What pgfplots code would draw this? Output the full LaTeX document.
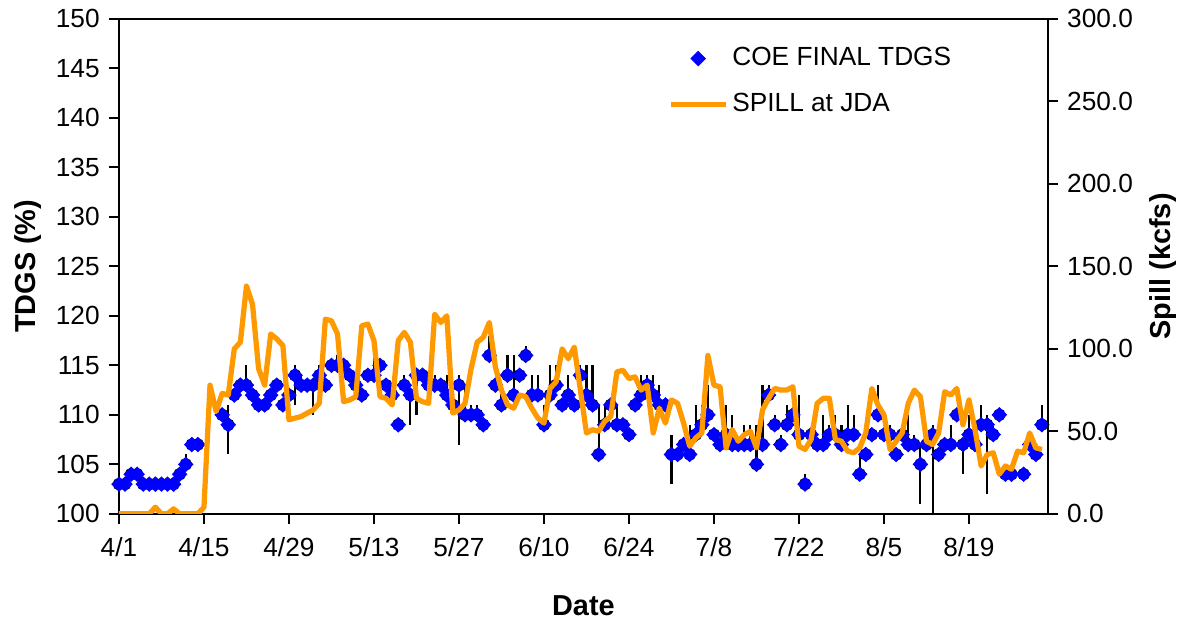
\documentclass[border=0pt]{standalone}
\usepackage{pgfplots}
\pgfplotsset{compat=1.18}
\usepackage{pgfplotstable}
\usepackage{fontspec}
\setmainfont{Liberation Sans}
\definecolor{spillc}{RGB}{255,153,0}
\pgfplotsset{
  lineleg/.style={legend image code/.code={\draw[##1] (0pt,0pt) -- (21pt,0pt);}},
  markleg/.style={legend image code/.code={\draw[##1] plot coordinates {(10.5pt,0pt)};}},
}

\pgfplotstableread{
d t ep em
0 103 0 0
1 103 0 0
2 104 0 0
3 104 0 0
4 103 0 0
5 103 0 0
6 103 0 0
7 103 0 0
8 103 0 0
9 103 0 0
10 104 0 0
11 105 1 0
12 107 0 0
13 107 0 0
17 110 0 0
18 109 2 3
19 112 0 0
20 113 0 0
21 113 2 0
22 112 0 0
23 111 0 0
24 111 0 0
25 112 0 0
26 113 0 0
27 111 0 0
28 112 0 0
29 114 1 3
30 113 1 0
31 113 0 0
32 113 0 3
33 114 1 0
34 113 0 0
35 115 0 0
36 115 1 0
37 115 0 0
38 114 0 0
39 113 1 0
40 112 0 0
41 114 0 0
42 114 2 0
43 115 0 0
44 113 0 0
45 112 0 0
46 109 0 0
47 113 1 0
48 112 0 3
49 114 0 4
50 114 0 0
51 113 0 0
52 113 1 0
53 113 0 0
54 112 2 0
55 111 0 0
56 113 1 6
57 110 3 0
58 110 1 0
59 110 1 0
60 109 0 0
61 116 2 0
62 113 0 0
63 111 2 0
64 114 2 0
65 112 4 0
66 114 0 0
67 116 1 0
68 112 2 0
69 112 2 0
70 109 2 0
71 112 3 0
72 113 2 0
73 111 0 0
74 112 2 0
75 111 0 0
76 114 1 0
77 112 3 0
78 111 4 0
79 106 5 0
80 109 2 0
81 111 0 0
82 109 2 0
83 109 0 0
84 108 0 0
85 111 0 0
86 112 2 0
87 113 1 0
88 112 2 0
89 111 2 0
90 111 0 0
91 106 2 3
92 106 0 0
93 107 0 0
94 106 3 0
95 108 3 0
96 109 2 0
97 110 3 0
98 108 0 0
99 107 0 0
100 108 3 0
101 107 3 0
102 107 0 0
103 107 2 0
104 107 2 0
105 105 4 0
106 107 6 0
107 112 1 0
108 109 1 0
109 107 1 0
110 109 2 0
111 110 0 0
112 108 4 0
113 103 1 0
114 108 0 0
115 107 0 0
116 107 3 0
117 108 1 0
118 108 2 0
119 107 2 0
120 108 3 0
121 108 2 0
122 104 2 0
123 106 0 0
124 108 0 0
125 110 3 0
126 108 0 0
127 108 1 0
128 106 0 0
129 108 0 0
130 107 3 0
131 107 1 0
132 105 2 4
133 107 1 0
134 108 1 8
135 106 0 0
136 107 0 0
137 107 2 0
138 110 0 0
139 107 0 3
140 108 2 0
141 107 0 0
142 109 2 0
143 109 1 7
144 108 1 0
145 110 0 0
146 104 0 0
147 104 0 0
149 104 0 0
150 107 0 0
151 106 0 0
152 109 2 0
}\tdgs

\pgfplotstableread{
d s
0 0
1 0
2 0
3 0
4 0
5 0
6 4
7 0
8 0
9 3
10 0
11 0
12 0
13 0
14 4
15 78
16 62
17 73
18 72
19 100
20 104
21 138
22 127
23 88
24 78
25 109
26 106
27 102
28 57
29 58
30 59
31 61
32 63
33 67
34 118
35 117
36 109
37 68
38 69
39 71
40 114
41 115
42 105
43 71
44 70
45 66
46 105
47 110
48 104
49 70
50 68
51 67
52 121
53 116
54 120
55 61
56 63
57 67
58 88
59 104
60 107
61 116
62 89
63 75
64 66
65 64
66 72
67 71
68 64
69 58
70 55
71 76
72 80
73 100
74 94
75 101
76 75
77 49
78 51
79 50
80 56
81 59
82 86
83 87
84 82
85 83
86 75
87 78
88 49
89 64
90 55
91 69
92 67
93 55
94 41
95 46
96 49
97 96
98 78
99 77
100 40
101 51
102 44
103 48
104 50
105 40
106 63
107 70
108 76
109 75
110 75
111 77
112 41
113 39
114 45
115 67
116 70
117 70
118 45
119 44
120 38
121 37
122 40
123 49
124 76
125 66
126 60
127 39
128 44
129 49
130 67
131 75
132 71
133 44
134 42
135 49
136 74
137 72
138 76
139 54
140 69
141 51
142 29
143 36
144 37
145 24
146 29
147 27
148 38
149 37
150 49
151 40
152 39
}\spilldata

\begin{document}
\begin{tikzpicture}
\begin{axis}[name=ax, scale only axis, width=353.8pt, height=188.5pt,
  xmin=0, xmax=153, ymin=100, ymax=150,
  xtick={0,14,28,42,56,70,84,98,112,126,140},
  xticklabels={4/1,4/15,4/29,5/13,5/27,6/10,6/24,7/8,7/22,8/5,8/19},
  ytick={100,105,...,150},
  tick align=outside, major tick length=3.8pt,
  xtick pos=bottom, ytick pos=left,
  axis line style={line width=1pt},
  tick style={black, line width=0.8pt},
  /pgf/number format/assume math mode=true,
  ticklabel style={font=\fontsize{10pt}{12pt}\selectfont},
  xticklabel style={yshift=-1.5pt},
  every axis y label/.style={at={(axis description cs:-0.098,0.5)}, rotate=90, anchor=center, font=\fontsize{11pt}{13pt}\selectfont\bfseries},
  every axis x label/.style={at={(axis description cs:0.5,-0.185)}, anchor=center, font=\fontsize{11pt}{13pt}\selectfont\bfseries},
  ylabel={TDGS (\%)}, xlabel={Date},
]
\addplot[only marks, mark=none, black, line width=0.8pt,
  error bars/.cd, y dir=both, y explicit, error mark=none,
  error bar style={line width=0.8pt, black}]
  table[x=d, y=t, y error plus=ep, y error minus=em] {\tdgs};
\addplot[only marks, mark=square*, mark size=1.9pt,
  mark options={rotate=45, fill=blue, draw=blue}]
  table[x=d, y=t] {\tdgs};
\end{axis}
\begin{axis}[scale only axis, width=353.8pt, height=188.5pt,
  xmin=0, xmax=153, ymin=0, ymax=300,
  axis x line=none, axis y line*=right,
  ytick={0,50,...,300},
  tick align=outside, major tick length=3.8pt,
  axis line style={line width=1pt},
  tick style={black, line width=0.8pt},
  /pgf/number format/assume math mode=true,
  yticklabel style={font=\fontsize{10pt}{12pt}\selectfont, /pgf/number format/.cd, fixed, fixed zerofill, precision=1},
  every axis y label/.style={at={(axis description cs:1.124,0.5)}, rotate=90, anchor=center, font=\fontsize{11pt}{13pt}\selectfont\bfseries},
  ylabel={Spill (kcfs)},
  legend cell align=left,
  legend style={at={(0.582,0.962)}, anchor=north west, draw=none, fill=none,
    font=\fontsize{10pt}{12pt}\selectfont, row sep=6pt,
    nodes={inner sep=1.5pt}},
]
\addlegendimage{only marks, mark=square*, mark size=1.9pt,
  mark options={rotate=45, fill=blue, draw=blue}, markleg}
\addlegendentry{COE FINAL TDGS}
\addplot[spillc, line width=2pt, mark=none, line join=round, lineleg]
  table[x=d, y=s] {\spilldata};
\addlegendentry{SPILL at JDA}
\end{axis}
\pgfresetboundingbox
\path[use as bounding box] ([xshift=-45.3pt,yshift=-41.1pt]ax.south west) rectangle ([xshift=54.5pt,yshift=7.2pt]ax.north east);
\end{tikzpicture}
\end{document}
